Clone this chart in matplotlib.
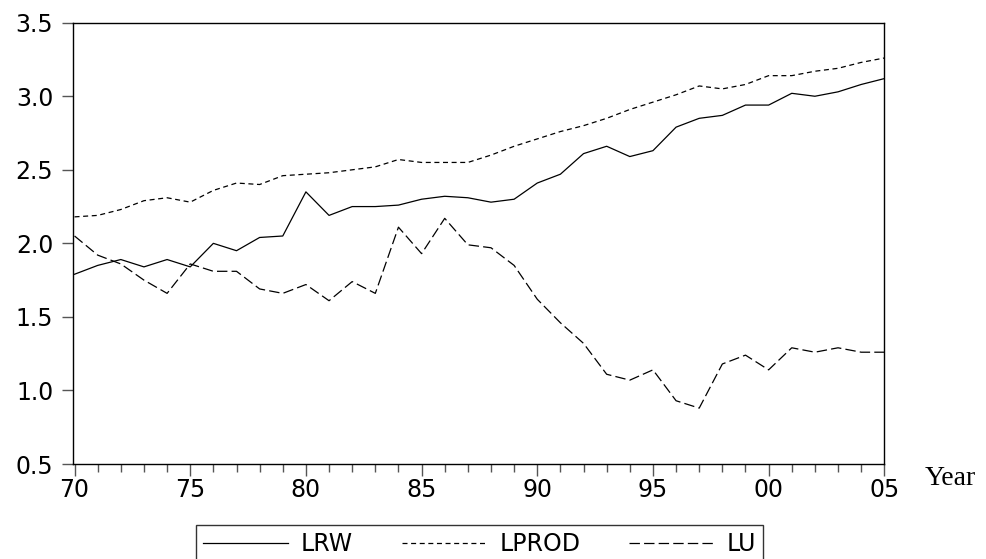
import matplotlib
matplotlib.use("Agg")
import matplotlib.pyplot as plt
import numpy as np

years = list(range(1970, 2006))
lrw = [1.79, 1.85, 1.89, 1.84, 1.89, 1.84, 2.00, 1.95, 2.04, 2.05,
       2.35, 2.19, 2.25, 2.25, 2.26, 2.30, 2.32, 2.31, 2.28, 2.30,
       2.41, 2.47, 2.61, 2.66, 2.59, 2.63, 2.79, 2.85, 2.87, 2.94,
       2.94, 3.02, 3.00, 3.03, 3.08, 3.12]
lprod = [2.18, 2.19, 2.23, 2.29, 2.31, 2.28, 2.36, 2.41, 2.40, 2.46,
         2.47, 2.48, 2.50, 2.52, 2.57, 2.55, 2.55, 2.55, 2.60, 2.66,
         2.71, 2.76, 2.80, 2.85, 2.91, 2.96, 3.01, 3.07, 3.05, 3.08,
         3.14, 3.14, 3.17, 3.19, 3.23, 3.26]
lu = [2.05, 1.92, 1.86, 1.75, 1.66, 1.86, 1.81, 1.81, 1.69, 1.66,
      1.72, 1.61, 1.74, 1.66, 2.11, 1.93, 2.17, 1.99, 1.97, 1.85,
      1.62, 1.46, 1.32, 1.11, 1.07, 1.14, 0.93, 0.88, 1.18, 1.24,
      1.14, 1.29, 1.26, 1.29, 1.26, 1.26]
xtick_years = [1970, 1975, 1980, 1985, 1990, 1995, 2000, 2005]
xtick_labels = ["70", "75", "80", "85", "90", "95", "00", "05"]
ytick_vals = [0.5, 1.0, 1.5, 2.0, 2.5, 3.0, 3.5]
ytick_labels = ["0.5", "1.0", "1.5", "2.0", "2.5", "3.0", "3.5"]
series_names = ["LRW", "LPROD", "LU"]

plt.rcParams["lines.scale_dashes"] = False
plt.rcParams["font.family"] = ["DejaVu Sans"]

W, H = 986, 559
fig = plt.figure(figsize=(W / 100, H / 100), dpi=100)
left, right, top, bottom = 72.7, 884.3, 22.7, 464.0
ax = fig.add_axes([left / W, 1 - bottom / H, (right - left) / W, (bottom - top) / H])

lw = 0.9
ax.plot(years, lrw, color="black", lw=lw, linestyle="-", label=series_names[0])
ax.plot(years, lprod, color="black", lw=lw, linestyle=(0, (3.6, 2.6)), label=series_names[1])
ax.plot(years, lu, color="black", lw=lw, linestyle=(0, (7.5, 3.0)), label=series_names[2])

ax.set_xlim(1969.92, 2005)
ax.set_ylim(0.5, 3.5)
ax.set_xticks(xtick_years)
ax.set_xticklabels(xtick_labels)
ax.set_xticks(years, minor=True)
ax.set_yticks(ytick_vals)
ax.set_yticklabels(ytick_labels)

ax.tick_params(axis="x", which="major", direction="out", length=8.6, width=1.0,
               color="#555555", pad=1.5, labelsize=17)
ax.tick_params(axis="x", which="minor", direction="out", length=5.5, width=1.0,
               color="#555555")
ax.tick_params(axis="y", which="major", direction="out", length=8.0, width=1.0,
               color="#555555", pad=6, labelsize=17)
for sp in ax.spines.values():
    sp.set_color("black")
    sp.set_linewidth(1.0)

fig.text(925 / W, 1 - 485 / H, "Year", family="Liberation Serif", fontsize=20,
         ha="left", va="baseline")

leg = fig.legend(loc="upper left", bbox_to_anchor=(196 / W, 1 - 525 / H),
                 bbox_transform=fig.transFigure, ncol=3, fontsize=17,
                 frameon=True, fancybox=False, edgecolor="black",
                 borderaxespad=0, borderpad=0.3, handlelength=3.6,
                 handletextpad=0.55, columnspacing=2.05)
leg.get_frame().set_linewidth(1.0)

fig.savefig("out.png", dpi=100)
